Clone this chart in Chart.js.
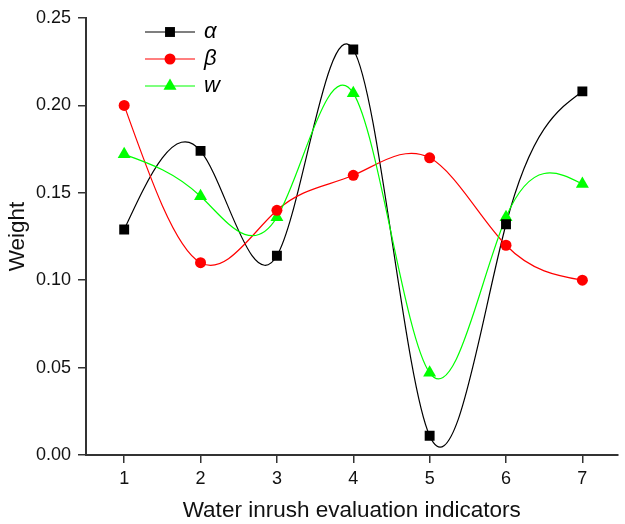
<!DOCTYPE html>
<html>
<head>
<meta charset="utf-8">
<script src="https://cdn.jsdelivr.net/npm/chart.js@4/dist/chart.umd.min.js"></script>
<style>
  html, body { margin: 0; padding: 0; background: #fff; overflow: hidden; }
  #wrap { width: 625px; height: 524px; }
</style>
</head>
<body>
<div id="wrap"><canvas id="chart" width="625" height="524"></canvas></div>
<script>
// data
const indicators = [1, 2, 3, 4, 5, 6, 7];
const alphaVals = [0.129, 0.174, 0.114, 0.232, 0.011, 0.132, 0.208];
const betaVals  = [0.200, 0.110, 0.140, 0.160, 0.170, 0.120, 0.100];
const wVals     = [0.172, 0.148, 0.136, 0.207, 0.047, 0.136, 0.155];
const yTicks = [0.00, 0.05, 0.10, 0.15, 0.20, 0.25];

const FONT = '"Liberation Sans", Arial, sans-serif';
const toPoints = vals => indicators.map((x, i) => ({ x: x, y: vals[i] }));

const series = [
    { label: 'α', data: toPoints(alphaVals), color: '#000000', style: 'rect', radius: 7 },
    { label: 'β', data: toPoints(betaVals), color: '#ff0000', style: 'circle', radius: 5.5 },
    { label: 'w', data: toPoints(wVals), color: '#00ff00', style: 'triangle', radius: 7.5 }
];

// natural cubic spline slopes for the given knots
function splineSlopes(xs, ys) {
    const n = xs.length;
    const h = [], a = [], b = [], c = [], r = [];
    for (let i = 0; i < n - 1; i++) h.push(xs[i + 1] - xs[i]);
    // solve for second derivatives m with m0 = mn = 0
    const m = new Array(n).fill(0);
    for (let i = 1; i < n - 1; i++) {
        a[i] = h[i - 1];
        b[i] = 2 * (h[i - 1] + h[i]);
        c[i] = h[i];
        r[i] = 6 * ((ys[i + 1] - ys[i]) / h[i] - (ys[i] - ys[i - 1]) / h[i - 1]);
    }
    for (let i = 2; i < n - 1; i++) {
        const f = a[i] / b[i - 1];
        b[i] -= f * c[i - 1];
        r[i] -= f * r[i - 1];
    }
    for (let i = n - 2; i >= 1; i--) {
        m[i] = (r[i] - (i < n - 2 ? c[i] * m[i + 1] : 0)) / b[i];
    }
    const d = [];
    for (let i = 0; i < n - 1; i++) {
        d[i] = (ys[i + 1] - ys[i]) / h[i] - h[i] * (2 * m[i] + m[i + 1]) / 6;
    }
    d[n - 1] = (ys[n - 1] - ys[n - 2]) / h[n - 2] + h[n - 2] * (m[n - 2] + 2 * m[n - 1]) / 6;
    return d;
}

// smooth connecting lines, placed through the chart's scales
const splineLines = {
    id: 'splineLines',
    beforeDatasetsDraw(chart) {
        const ctx = chart.ctx;
        const xs = chart.scales.x, ys = chart.scales.y;
        const area = chart.chartArea;
        ctx.save();
        ctx.beginPath();
        ctx.rect(area.left, area.top - 5, area.right - area.left, area.bottom - area.top + 5);
        ctx.clip();
        chart.data.datasets.forEach(ds => {
            const px = ds.data.map(p => p.x);
            const py = ds.data.map(p => p.y);
            const d = splineSlopes(px, py);
            ctx.strokeStyle = ds.borderColor;
            ctx.lineWidth = 1.2;
            ctx.beginPath();
            ctx.moveTo(xs.getPixelForValue(px[0]), ys.getPixelForValue(py[0]));
            for (let i = 0; i < px.length - 1; i++) {
                const h = px[i + 1] - px[i];
                ctx.bezierCurveTo(
                    xs.getPixelForValue(px[i] + h / 3), ys.getPixelForValue(py[i] + d[i] * h / 3),
                    xs.getPixelForValue(px[i + 1] - h / 3), ys.getPixelForValue(py[i + 1] - d[i + 1] * h / 3),
                    xs.getPixelForValue(px[i + 1]), ys.getPixelForValue(py[i + 1])
                );
            }
            ctx.stroke();
        });
        ctx.restore();
    }
};

// legend drawn inside the plot, top-left
const insideLegend = {
    id: 'insideLegend',
    afterDatasetsDraw(chart) {
        const ctx = chart.ctx;
        ctx.save();
        chart.data.datasets.forEach((ds, i) => {
            const y = 32 + i * 27;
            ctx.strokeStyle = ds.borderColor;
            ctx.lineWidth = 1.2;
            ctx.beginPath();
            ctx.moveTo(145, y);
            ctx.lineTo(195, y);
            ctx.stroke();
            ctx.fillStyle = ds.pointBackgroundColor;
            ctx.strokeStyle = ds.pointBackgroundColor;
            Chart.helpers.drawPoint(ctx, { pointStyle: ds.pointStyle, radius: ds.pointRadius, borderWidth: 0 }, 170, y);
            ctx.fillStyle = '#000';
            ctx.font = 'italic 22px ' + FONT;
            ctx.textBaseline = 'middle';
            ctx.fillText(ds.label, 204, y);
        });
        ctx.restore();
    }
};

const ctx = document.getElementById('chart').getContext('2d');
new Chart(ctx, {
    type: 'line',
    data: {
        datasets: series.map(s => ({
            label: s.label,
            data: s.data,
            borderColor: s.color,
            showLine: false,
            pointStyle: s.style,
            pointRadius: s.radius,
            pointBackgroundColor: s.color,
            pointBorderColor: s.color,
            pointBorderWidth: 0
        }))
    },
    options: {
        responsive: false,
        animation: false,
        layout: { padding: { top: 18, right: 0, left: 0, bottom: 0 } },
        plugins: {
            legend: { display: false },
            tooltip: { enabled: false }
        },
        scales: {
            x: {
                type: 'linear',
                min: 0.5,
                max: 7.46,
                afterBuildTicks: scale => { scale.ticks = indicators.map(v => ({ value: v })); },
                afterFit: scale => { scale.height = 69; },
                border: { display: true, color: '#333', width: 2 },
                grid: { display: true, drawOnChartArea: false, drawTicks: true, tickLength: 8, color: '#333', lineWidth: 1.5 },
                ticks: { color: '#111', padding: 5, font: { family: FONT, size: 18 } },
                title: { display: true, text: 'Water inrush evaluation indicators', color: '#111', padding: { top: 4, bottom: 0 }, font: { family: FONT, size: 22.5 } }
            },
            y: {
                min: 0,
                max: 0.25,
                afterBuildTicks: scale => { scale.ticks = yTicks.map(v => ({ value: v })); },
                afterFit: scale => { scale.width = 86; },
                border: { display: true, color: '#333', width: 2 },
                grid: { display: true, drawOnChartArea: false, drawTicks: true, tickLength: 8, color: '#333', lineWidth: 1.5 },
                ticks: { color: '#111', padding: 7, callback: v => v.toFixed(2), font: { family: FONT, size: 18 } },
                title: { display: true, text: 'Weight', color: '#111', padding: { top: 4, bottom: 0 }, font: { family: FONT, size: 22.5 } }
            }
        }
    },
    plugins: [splineLines, insideLegend]
});
</script>
</body>
</html>
